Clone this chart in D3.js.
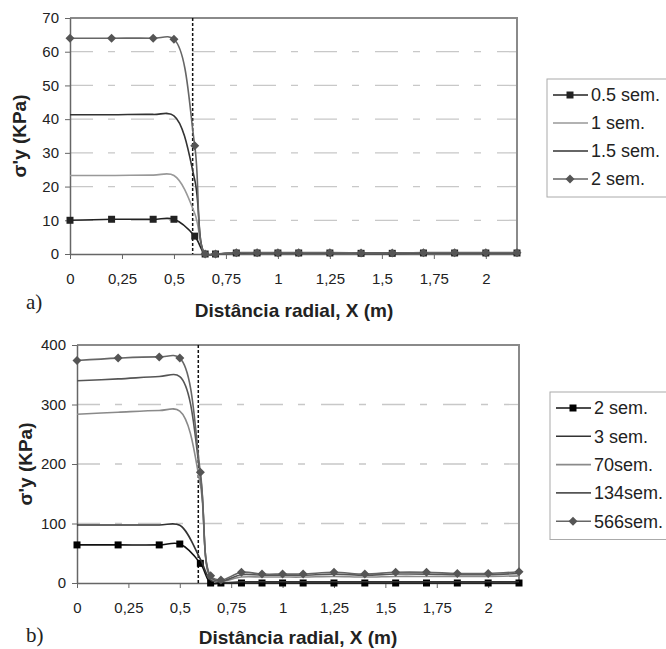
<!DOCTYPE html>
<html>
<head>
<meta charset="utf-8">
<script src="https://cdn.jsdelivr.net/npm/d3@7"></script>
<style>
  body { margin: 0; background: #fff; }
  svg { display: block; font-family: 'Liberation Sans', Arial, sans-serif; }
</style>
</head>
<body>
<div id="chart"></div>
<script>
// radial distance of every measured point (m)
const distances = [0, 0.2, 0.4, 0.5, 0.6, 0.65, 0.7, 0.8, 0.9, 1.0, 1.1, 1.25, 1.4, 1.55, 1.7, 1.85, 2.0, 2.15];
const xTicks = [0, 0.25, 0.5, 0.75, 1, 1.25, 1.5, 1.75, 2];

// panel a) series (kPa)
const namesA = ['0.5 sem.', '1 sem.', '1.5 sem.', '2 sem.'];
const semA05 = [10, 10.3, 10.3, 10.3, 5.3, 0, 0, 0.3, 0.3, 0.3, 0.3, 0.3, 0.2, 0.2, 0.3, 0.3, 0.3, 0.3];
const semA1 = [23.3, 23.3, 23.4, 23.3, 12, 0, 0, 0.3, 0.3, 0.3, 0.3, 0.3, 0.3, 0.3, 0.3, 0.3, 0.3, 0.3];
const semA15 = [41.3, 41.3, 41.4, 41, 22, 0, 0, 0.3, 0.3, 0.3, 0.3, 0.3, 0.3, 0.3, 0.3, 0.3, 0.3, 0.3];
const semA2 = [64, 64, 64, 63.7, 32.1, 0, 0, 0.4, 0.4, 0.4, 0.4, 0.4, 0.3, 0.3, 0.4, 0.4, 0.4, 0.4];
const yTicksA = [0, 10, 20, 30, 40, 50, 60, 70];

// panel b) series (kPa)
const namesB = ['2 sem.', '3 sem.', '70sem.', '134sem.', '566sem.'];
const semB2 = [64, 64, 64, 65.5, 33, 0, 0, 0, 0, 0, 0, 0, 0, 0, 0, 0, 0, 0];
const semB3 = [97.5, 97.5, 97.5, 97, 40, 5, 1, 2, 2, 2, 2, 2, 2, 2, 2, 2, 2, 2];
const semB70 = [283.5, 287, 290, 289, 165, 8, 3, 10, 10, 10, 10, 11, 10, 11, 11, 11, 11, 12];
const semB134 = [340, 343, 347, 347, 180, 10, 3, 14, 13, 13, 13, 15, 13, 15, 15, 14, 14, 16];
const semB566 = [374, 378, 380, 378, 186, 12, 5, 18, 15, 15, 15, 18, 15, 18, 18, 16, 16, 19];
const yTicksB = [0, 100, 200, 300, 400];

// vertical reference line (m)
const limitX = 0.59;

const width = 666;
const height = 649;

const svg = d3.select('#chart').append('svg')
  .attr('width', width)
  .attr('height', height);

const fmt = v => String(v).replace('.', ',');

const squarePath = 'M-3.5,-3.5h7v7h-7Z';
const diamondPath = 'M0,-4.5L4.5,0L0,4.5L-4.5,0Z';

function panel(s) {
  const x = d3.scaleLinear().domain([0, 2.15]).range([s.left, s.right]);
  const y = d3.scaleLinear().domain([0, s.yMax]).range([s.bottom, s.top]);
  const g = svg.append('g');

  // grid
  g.append('g').selectAll('line')
    .data(s.yTicks.filter(v => v > 0 && v < s.yMax))
    .join('line')
    .attr('x1', s.left).attr('x2', s.right)
    .attr('y1', d => y(d)).attr('y2', d => y(d))
    .style('stroke', '#c8c8c8')
    .style('stroke-width', 1.3)
    .style('stroke-dasharray', '23,15,7,16');

  // frame top + right
  g.append('path')
    .attr('d', `M${s.left},${s.top}H${s.right}V${s.bottom}`)
    .style('fill', 'none')
    .style('stroke', '#8a8a8a')
    .style('stroke-width', 2);

  // axes
  const ax = g.append('g')
    .attr('transform', `translate(0,${s.bottom})`)
    .call(d3.axisBottom(x).tickValues(xTicks).tickFormat(fmt).tickSize(5).tickPadding(14).tickSizeOuter(0));
  const ay = g.append('g')
    .attr('transform', `translate(${s.left},0)`)
    .call(d3.axisLeft(y).tickValues(s.yTicks).tickSize(5).tickPadding(6).tickSizeOuter(0));
  [ax, ay].forEach(a => {
    a.select('.domain').style('stroke', '#666').style('stroke-width', 1.5);
    a.selectAll('.tick line').style('stroke', '#666');
    a.selectAll('text').style('font-size', '15px').style('fill', '#222')
      .style('font-family', "'Liberation Sans', Arial, sans-serif");
  });

  // dashed limit line
  g.append('line')
    .attr('x1', x(limitX)).attr('x2', x(limitX))
    .attr('y1', s.top).attr('y2', s.bottom)
    .style('stroke', '#111')
    .style('stroke-width', 1.5)
    .style('stroke-dasharray', '3,2');

  // lines
  const line = d3.line()
    .x((d, i) => x(distances[i]))
    .y(d => y(d))
    .curve(d3.curveCatmullRom);

  s.series.forEach(ser => {
    g.append('path')
      .datum(ser.values)
      .attr('d', line)
      .style('fill', 'none')
      .style('stroke', ser.color)
      .style('stroke-width', 1.6);
    if (ser.marker) {
      g.append('g').selectAll('path')
        .data(ser.values)
        .join('path')
        .attr('transform', (d, i) => `translate(${x(distances[i])},${y(d)})`)
        .attr('d', ser.marker === 'square' ? squarePath : diamondPath)
        .style('fill', ser.markerColor);
    }
  });

  // axis titles
  svg.append('text')
    .attr('transform', `translate(${s.yTitleX},${(s.top + s.bottom) / 2}) rotate(-90)`)
    .attr('text-anchor', 'middle')
    .attr('dy', '0.35em')
    .style('font-size', '19px')
    .style('font-weight', 'bold')
    .style('fill', '#222')
    .text('σ\'y (KPa)');
  svg.append('text')
    .attr('x', s.xTitleX)
    .attr('y', s.xTitleY)
    .attr('text-anchor', 'middle')
    .style('font-size', '19px')
    .style('font-weight', 'bold')
    .style('fill', '#222')
    .text('Distância radial, X (m)');
  svg.append('text')
    .attr('x', 26)
    .attr('y', s.labelY)
    .style('font-family', "'Liberation Serif', 'Times New Roman', serif")
    .style('font-size', '21px')
    .style('fill', '#222')
    .text(s.label);

  // legend
  const lg = svg.append('g');
  lg.append('rect')
    .attr('x', s.legX).attr('y', s.legY)
    .attr('width', 140).attr('height', s.series.length * s.legStep + 6)
    .style('fill', '#fff')
    .style('stroke', '#aaa');
  s.series.forEach((ser, i) => {
    const cy = s.legY + 16 + i * s.legStep;
    lg.append('line')
      .attr('x1', s.legX + 6).attr('x2', s.legX + 41)
      .attr('y1', cy).attr('y2', cy)
      .style('stroke', ser.color)
      .style('stroke-width', 1.6);
    if (ser.marker) {
      lg.append('path')
        .attr('transform', `translate(${s.legX + 23},${cy})`)
        .attr('d', ser.marker === 'square' ? squarePath : diamondPath)
        .style('fill', ser.markerColor);
    }
    lg.append('text')
      .attr('x', s.legX + 44)
      .attr('y', cy)
      .attr('dy', '0.35em')
      .style('font-size', '18px')
      .style('fill', '#222')
      .text(ser.name);
  });
}

panel({
  left: 70, right: 517, top: 18, bottom: 254,
  yMax: 70, yTicks: yTicksA,
  yTitleX: 19, xTitleX: 294, xTitleY: 317, label: 'a)', labelY: 309,
  legX: 547, legY: 79, legStep: 28,
  series: [
    {name: namesA[0], values: semA05, color: '#222', marker: 'square', markerColor: '#222'},
    {name: namesA[1], values: semA1, color: '#999'},
    {name: namesA[2], values: semA15, color: '#333'},
    {name: namesA[3], values: semA2, color: '#666', marker: 'diamond', markerColor: '#555'}
  ]
});

panel({
  left: 77, right: 519, top: 345, bottom: 583,
  yMax: 400, yTicks: yTicksB,
  yTitleX: 25, xTitleX: 298, xTitleY: 644, label: 'b)', labelY: 642,
  legX: 550, legY: 392, legStep: 28.3,
  series: [
    {name: namesB[0], values: semB2, color: '#111', marker: 'square', markerColor: '#000'},
    {name: namesB[1], values: semB3, color: '#333'},
    {name: namesB[2], values: semB70, color: '#8a8a8a'},
    {name: namesB[3], values: semB134, color: '#555'},
    {name: namesB[4], values: semB566, color: '#666', marker: 'diamond', markerColor: '#555'}
  ]
});
</script>
</body>
</html>
